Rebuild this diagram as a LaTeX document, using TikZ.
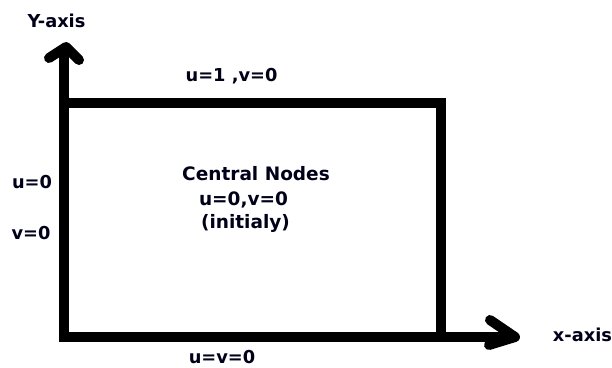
\documentclass[tikz,border=0pt]{standalone}
\usepackage{fontspec}
\setmainfont{DejaVu Sans}
\begin{document}
\begin{tikzpicture}[x=1pt,y=-1pt,
  thick stroke/.style={line width=10pt,black,line join=miter},
  head stroke/.style={line width=10pt,black,line cap=round,line join=round},
  lbl/.style={font=\bfseries\fontsize{17.8}{20}\selectfont,text=black!90!blue,anchor=base,inner sep=0pt},
  clbl/.style={lbl,font=\bfseries\fontsize{18.5}{20}\selectfont}]
  \useasboundingbox (0,0) rectangle (612,367);
  \fill[white] (0,0) rectangle (612,367);

  % corners of the domain and the ends of the axes
  \coordinate (ytip) at (66,47);
  \coordinate (origin) at (64,337);
  \coordinate (topleft) at (64,103);
  \coordinate (topright) at (441,103);
  \coordinate (botright) at (441,337);
  \coordinate (xtip) at (515,337);
  \coordinate (yaxis) at (64,47);

  % axes
  \draw[thick stroke] (yaxis) -- (origin) -- (xtip);
  % top lid and right wall
  \draw[thick stroke] (topleft) -- (topright) -- (botright);

  % hand-drawn arrow heads
  \coordinate (ywl) at (49,58);
  \coordinate (ywr) at (79,60);
  \draw[head stroke] (ywl) -- (ytip) -- (ywr);
  \coordinate (xwu) at (490,320);
  \coordinate (xwd) at (489,345);
  \draw[head stroke] (xwu) -- (xtip) -- (xwd);

  % labels
  \node[lbl] (ylab) at (56.5,27) {Y-axis};
  \node[lbl] (xlab) at (582.5,341) {x-axis};
  \node[lbl] (toplab) at (231.5,81) {u=1 ,v=0};
  \node[lbl] (botlab) at (222,363) {u=v=0};
  \node[lbl] (leftu) at (32,188) {u=0};
  \node[lbl] (leftv) at (31,239) {v=0};
  \node[clbl] (cn1) at (256,180) {Central Nodes};
  \node[clbl] (cn2) at (243.5,205) {u=0,v=0};
  \node[clbl] (cn3) at (245.5,228) {(initialy)};
\end{tikzpicture}
\end{document}
